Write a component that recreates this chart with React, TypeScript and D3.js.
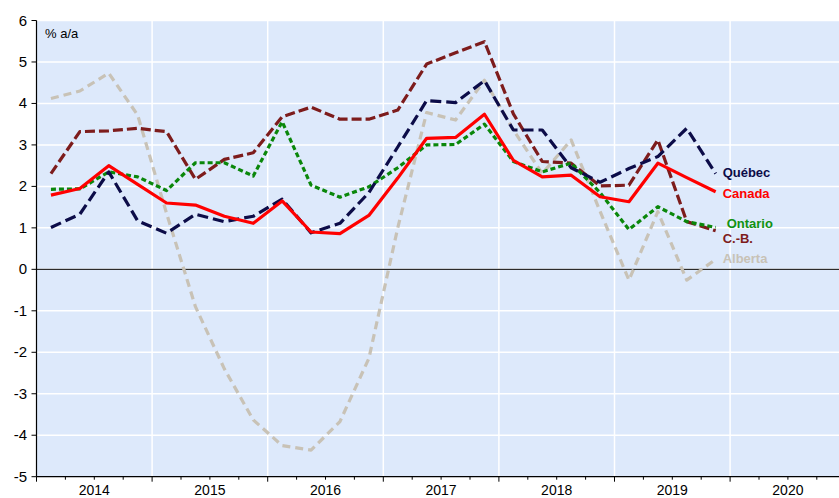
import * as d3 from "d3";

// quarterly, 2014Q1 .. 2019Q4
const quarters = d3.range(24).map((i) => 2014 + Math.floor(i / 4) + ((i % 4) + 0.5) / 4);

const quebec = [1.01, 1.33, 2.35, 1.17, 0.87, 1.33, 1.15, 1.28, 1.69, 0.88, 1.11, 1.85, 2.95, 4.07, 4.02, 4.55, 3.36, 3.36, 2.45, 2.1, 2.43, 2.72, 3.4, 2.31];
const canada = [1.79, 1.95, 2.5, 2.05, 1.6, 1.55, 1.28, 1.11, 1.65, 0.9, 0.86, 1.3, 2.2, 3.16, 3.18, 3.74, 2.63, 2.23, 2.27, 1.75, 1.63, 2.56, 2.21, 1.87];
const ontario = [1.93, 1.94, 2.35, 2.23, 1.9, 2.57, 2.57, 2.25, 3.56, 2.03, 1.74, 1.99, 2.45, 3.0, 3.01, 3.5, 2.6, 2.35, 2.56, 1.85, 0.96, 1.51, 1.15, 1.01];
const cb = [2.31, 3.32, 3.34, 3.4, 3.32, 2.17, 2.65, 2.81, 3.68, 3.91, 3.62, 3.62, 3.84, 4.95, 5.22, 5.49, 3.75, 2.6, 2.56, 2.01, 2.03, 3.12, 1.15, 0.93];
const alberta = [4.12, 4.3, 4.73, 3.72, 1.35, -0.9, -2.4, -3.63, -4.25, -4.36, -3.67, -2.15, 1.0, 3.78, 3.6, 4.56, 3.36, 2.31, 3.12, 1.4, -0.26, 1.39, -0.26, 0.24];

const years = [2014, 2015, 2016, 2017, 2018, 2019, 2020];
const yTicks = [6, 5, 4, 3, 2, 1, 0, -1, -2, -3, -4, -5];

const series = [
  { name: "Alberta", values: alberta, color: "#c8c2b6", dash: "8,5", labelY: 263 },
  { name: "C.-B.", values: cb, color: "#7d1c1c", dash: "10,4", labelY: 243 },
  { name: "Ontario", values: ontario, color: "#0a870a", dash: "5,3", labelY: 228, labelDx: 4, labelColor: "#119211" },
  { name: "Québec", values: quebec, color: "#0c0c48", dash: "11,5", labelY: 177 },
  { name: "Canada", values: canada, color: "#ff0000", dash: null, labelY: 198 },
];

const W = 839;
const H = 498;
const left = 36.5;
const yearW = 115.6;

export default function App() {
  const x = d3.scaleLinear().domain([2014, 2021]).range([left, left + 7 * yearW]);
  const y = d3.scaleLinear().domain([-5, 6]).range([476.7, 20.5]);
  const line = d3
    .line<number>()
    .x((_, i) => x(quarters[i]))
    .y((d) => y(d));
  const font = "Liberation Sans, Arial, sans-serif";
  const minor = d3.range(2014, 2021, 0.25);

  return (
    <svg width={W} height={H} style={{ position: "absolute", left: 0, top: 0, background: "#fff" }} fontFamily={font}>
      <rect x={left} y={y(6)} width={W - left} height={y(-5) - y(6)} fill="#dde9fb" />
      {yTicks.map((t) => (
        <line key={"g" + t} x1={left} x2={W} y1={y(t)} y2={y(t)} stroke="#fff" strokeWidth={1.5} />
      ))}
      {years.slice(1).map((yr) => (
        <line key={"v" + yr} x1={x(yr)} x2={x(yr)} y1={y(6)} y2={y(-5)} stroke="#fff" strokeWidth={1.5} />
      ))}
      <line x1={left} x2={W} y1={y(0)} y2={y(0)} stroke="#000" strokeWidth={1} />

      {series.map((s) => (
        <path
          key={s.name}
          d={line(s.values) ?? ""}
          fill="none"
          stroke={s.color}
          strokeWidth={3.2}
          strokeDasharray={s.dash ?? undefined}
          strokeLinejoin="round"
        />
      ))}

      {series.map((s) => (
        <text
          key={"l" + s.name}
          x={x(quarters[23]) + 7 + (s.labelDx ?? 0)}
          y={s.labelY}
          fill={s.labelColor ?? s.color}
          fontSize={13}
          fontWeight="bold"
        >
          {s.name}
        </text>
      ))}

      <text x={45} y={38} fontSize={13} fill="#000">% a/a</text>

      {/* left axis */}
      <line x1={left} x2={left} y1={y(6)} y2={y(-5)} stroke="#000" strokeWidth={1.2} />
      {yTicks.map((t) => (
        <g key={"t" + t}>
          <line x1={left - 5} x2={left} y1={y(t)} y2={y(t)} stroke="#000" strokeWidth={1} />
          <text x={27} y={y(t) + 5} textAnchor="end" fontSize={15} fill="#000">
            {t}
          </text>
        </g>
      ))}

      {/* bottom axis */}
      <line x1={left} x2={W} y1={y(-5)} y2={y(-5)} stroke="#000" strokeWidth={1.2} />
      {minor.map((m, i) => (
        <line
          key={"m" + i}
          x1={x(m)}
          x2={x(m)}
          y1={y(-5)}
          y2={y(-5) + (i % 4 === 0 ? 5 : 3)}
          stroke="#000"
          strokeWidth={1}
        />
      ))}
      {years.map((yr) => (
        <text key={"y" + yr} x={x(yr + 0.5)} y={495} textAnchor="middle" fontSize={14} fill="#000">
          {yr}
        </text>
      ))}
    </svg>
  );
}
